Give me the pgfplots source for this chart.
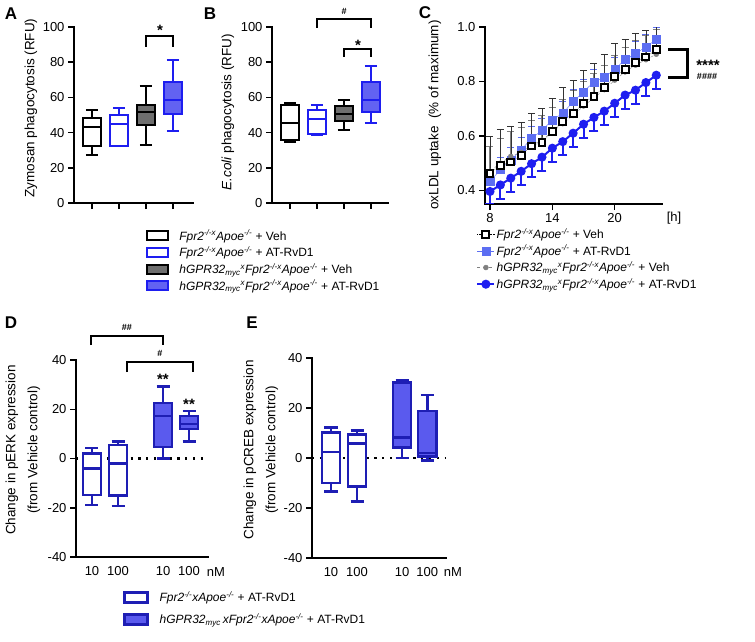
\documentclass[border=0pt]{standalone}
\usepackage{fontspec}
\setmainfont{Liberation Sans}
\usepackage{pgfplots}
\usepackage{pgfplotstable}
\pgfplotsset{compat=1.18}
\usepgfplotslibrary{statistics}

\definecolor{bblue}{HTML}{1E1EF0}
\definecolor{bfill}{HTML}{6262F2}
\definecolor{dblue}{HTML}{1E1EB4}
\definecolor{dfill}{HTML}{5A5AEE}
\definecolor{gfill}{HTML}{6E6E6E}
\definecolor{sqblue}{HTML}{5C6EF2}
\definecolor{gline}{HTML}{808080}

\newcommand{\ko}{\textsuperscript{\itshape -/-}}
\newcommand{\kox}{\textsuperscript{\itshape -/-x}}
\newcommand{\fpr}{\textit{Fpr2}\kox\textit{Apoe}\ko}
\newcommand{\hg}{\textit{hGPR32}\textsubscript{\itshape myc}\textsuperscript{\itshape x}\fpr}
\newcommand{\boxleg}[2]{\addlegendimage{legend image code/.code={\draw[line width=2pt,draw=#1,fill=#2] (0pt,-4.5pt) rectangle (21pt,4.5pt); \path[draw=none,fill=none] (0pt,0pt) rectangle (31pt,0pt);}}}
\newcommand{\boxlegD}[2]{\addlegendimage{legend image code/.code={\draw[line width=2.4pt,draw=#1,fill=#2] (0pt,-5pt) rectangle (23pt,5pt); \path[draw=none,fill=none] (0pt,0pt) rectangle (34pt,0pt);}}}

\pgfplotsset{
  panel/.style={
    scale only axis, anchor=south west,
    axis lines=left, axis line style={-, line width=1.5pt, line cap=rect},
    tick align=outside, major tick length=6pt,
    every tick/.style={black, line width=1.5pt},
    tick label style={font=\fontsize{13}{13}\selectfont},
    /pgf/number format/assume math mode=true,
    legend cell align=left,
    boxplot/draw direction=y,
  },
  bx/.style={boxplot prepared={#1}, line width=2pt, forget plot},
  bxd/.style={boxplot prepared={#1, box extend=0.7, whisker extend=0.5}, line width=2.5pt, dblue, forget plot},
  sBK/.style={black, densely dotted, thin, mark=square*, mark size=3.4pt, mark options={solid, fill=white, draw=black, line width=2pt}},
  sSQ/.style={sqblue, thin, mark=square*, mark size=4pt, mark options={solid, fill=sqblue, draw=sqblue}},
  sGR/.style={gline, dashed, thin, mark=*, mark size=2.5pt, mark options={solid, fill=gline, draw=gline}},
  sBC/.style={bblue, line width=2pt, mark=*, mark size=3.5pt, mark options={solid, fill=bblue, draw=bblue}},
}

\pgfplotstableread{
h  bk    ebk   sq    esq   gr    egr   bc    ebc
8  0.463 0.137 0.433 0.045 0.470 0.090 0.396 0.045
9  0.491 0.133 0.476 0.045 0.500 0.090 0.420 0.050
10 0.504 0.130 0.512 0.045 0.525 0.090 0.445 0.050
11 0.528 0.122 0.549 0.045 0.540 0.090 0.470 0.050
12 0.563 0.120 0.591 0.045 0.565 0.090 0.498 0.050
13 0.577 0.123 0.620 0.045 0.585 0.090 0.522 0.050
14 0.616 0.122 0.659 0.045 0.615 0.090 0.555 0.050
15 0.652 0.126 0.683 0.045 0.645 0.090 0.579 0.050
16 0.683 0.122 0.726 0.045 0.675 0.090 0.610 0.050
17 0.720 0.121 0.762 0.045 0.710 0.090 0.643 0.050
18 0.746 0.122 0.799 0.045 0.740 0.090 0.668 0.050
19 0.778 0.122 0.815 0.045 0.770 0.090 0.691 0.050
20 0.817 0.123 0.845 0.045 0.805 0.090 0.720 0.050
21 0.844 0.110 0.880 0.045 0.835 0.090 0.750 0.050
22 0.870 0.106 0.902 0.045 0.860 0.090 0.768 0.050
23 0.890 0.098 0.927 0.045 0.880 0.090 0.796 0.050
24 0.917 0.090 0.954 0.045 0.900 0.090 0.823 0.050
}\oxldl

\begin{document}
\begin{tikzpicture}[x=1pt,y=1pt]
\path (0,0) rectangle (755,641);

% ---------- A ----------
\begin{axis}[panel, at={(74pt,438pt)}, width=119pt, height=176pt,
  xmin=0.333, xmax=4.74, ymin=0, ymax=100,
  xtick={1,2,3,4}, xticklabels={}, ytick={0,20,...,100},
  boxplot/box extend=0.667, boxplot/whisker extend=0.45,
  legend style={at={(axis description cs:0.605,-0.145)}, anchor=north west, draw=none, fill=none,
    inner sep=0pt, row sep=2.6pt, font=\fontsize{12}{14}\selectfont, nodes={inner sep=1.2pt}}]
\addplot[bx={draw position=1, lower whisker=27, lower quartile=32.2, median=43, upper quartile=48.3, upper whisker=53}, draw=black, fill=white] coordinates {};
\addplot[bx={draw position=2, lower whisker=32.6, lower quartile=32.6, median=45, upper quartile=50.2, upper whisker=54}, draw=bblue, fill=white] coordinates {};
\addplot[bx={draw position=3, lower whisker=32.8, lower quartile=44.5, median=51.7, upper quartile=55.5, upper whisker=66.7}, draw=black, fill=gfill] coordinates {};
\addplot[bx={draw position=4, lower whisker=40.7, lower quartile=50.6, median=58.3, upper quartile=69, upper whisker=81.4}, draw=bblue, fill=bfill] coordinates {};
\boxleg{black}{white}\addlegendentry{\fpr{} + Veh}
\boxleg{bblue}{white}\addlegendentry{\fpr{}  + AT-RvD1}
\boxleg{black}{gfill}\addlegendentry{\hg{} + Veh}
\boxleg{bblue}{bfill}\addlegendentry{\hg{} + AT-RvD1}
\end{axis}

% ---------- B ----------
\begin{axis}[panel, at={(272pt,438pt)}, width=116pt, height=176pt,
  xmin=0.333, xmax=4.63, ymin=0, ymax=100,
  xtick={1,2,3,4}, xticklabels={}, ytick={0,20,...,100},
  boxplot/box extend=0.667, boxplot/whisker extend=0.45]
\addplot[bx={draw position=1, lower whisker=34.7, lower quartile=36, median=45.5, upper quartile=55.5, upper whisker=57}, draw=black, fill=white] coordinates {};
\addplot[bx={draw position=2, lower whisker=38.8, lower quartile=39.4, median=47.9, upper quartile=53, upper whisker=55.9}, draw=bblue, fill=white] coordinates {};
\addplot[bx={draw position=3, lower whisker=41.7, lower quartile=46.6, median=50.8, upper quartile=54.9, upper whisker=58.7}, draw=black, fill=gfill] coordinates {};
\addplot[bx={draw position=4, lower whisker=45.6, lower quartile=51.7, median=58.7, upper quartile=68.8, upper whisker=77.7}, draw=bblue, fill=bfill] coordinates {};
\end{axis}

% ---------- C ----------
\begin{axis}[panel, at={(485pt,437pt)}, width=177pt, height=177pt,
  xmin=7.52, xmax=24.55, ymin=0.35, ymax=1.0,
  xtick={8,14,20}, ytick={0.4,0.6,0.8,1.0},
  yticklabel style={/pgf/number format/.cd, fixed, fixed zerofill, precision=1},
  legend style={at={(axis description cs:-0.05,-0.13)}, anchor=north west, draw=none, fill=none,
    inner sep=0pt, row sep=2.6pt, font=\fontsize{12}{14}\selectfont, nodes={inner sep=1.2pt}}]
\addplot[sSQ, forget plot, error bars/.cd, y dir=plus, y explicit,
  error bar style={sqblue, thin, solid}, error mark options={rotate=90, mark size=3.5pt, sqblue}]
  table[x=h, y=sq, y error=esq] {\oxldl};
\addplot[sGR, forget plot, error bars/.cd, y dir=plus, y explicit,
  error bar style={gline, line width=1.2pt, solid}, error mark options={rotate=90, mark size=3.5pt, gline, line width=1pt}]
  table[x=h, y=gr, y error=egr] {\oxldl};
\addplot[sBK, forget plot, error bars/.cd, y dir=plus, y explicit,
  error bar style={black!80, thin, solid}, error mark options={rotate=90, mark size=3.5pt, black!80}]
  table[x=h, y=bk, y error=ebk] {\oxldl};
\addplot[sBC, forget plot, error bars/.cd, y dir=minus, y explicit,
  error bar style={bblue, line width=2pt, solid}, error mark options={rotate=90, mark size=4.5pt, bblue, line width=2pt}]
  table[x=h, y=bc, y error=ebc] {\oxldl};
\addlegendimage{sBK}\addlegendentry{\fpr{} + Veh}
\addlegendimage{sSQ}\addlegendentry{\fpr{}  + AT-RvD1}
\addlegendimage{sGR}\addlegendentry{\hg{} + Veh}
\addlegendimage{sBC}\addlegendentry{\hg{} + AT-RvD1}
\end{axis}

% ---------- D ----------
\begin{axis}[panel, at={(76pt,84pt)}, width=132pt, height=197pt,
  xmin=0.385, xmax=5.46, ymin=-40, ymax=40,
  xtick={1,2,3.73,4.73}, xticklabels={10,100,10,100}, x tick style={draw=none},
  ytick={-40,-20,...,40},
  legend style={at={(axis description cs:0.356,-0.168)}, anchor=north west, draw=none, fill=none,
    inner sep=0pt, row sep=8pt, font=\fontsize{12}{14}\selectfont, nodes={inner sep=1.2pt}}]
\addplot[black, line width=2.2pt, dash pattern=on 2.2pt off 5.6pt, forget plot] coordinates {(0.385,0) (5.46,0)};
\addplot[bxd={draw position=1, lower whisker=-18.9, lower quartile=-14.9, median=-4, upper quartile=2, upper whisker=4.3}, fill=white] coordinates {};
\addplot[bxd={draw position=2, lower whisker=-19.2, lower quartile=-15.1, median=-2, upper quartile=5.4, upper whisker=7}, fill=white] coordinates {};
\addplot[bxd={draw position=3.73, lower whisker=0, lower quartile=4.7, median=17.2, upper quartile=22.6, upper whisker=29.3}, fill=dfill] coordinates {};
\addplot[bxd={draw position=4.73, lower whisker=7, lower quartile=11.9, median=14, upper quartile=17.2, upper whisker=19.2}, fill=dfill] coordinates {};
\boxlegD{dblue}{white}\addlegendentry{\textit{Fpr2}\ko\textit{xApoe}\ko{} + AT-RvD1}
\boxlegD{dblue}{dfill}\addlegendentry{\textit{hGPR32}\textsubscript{\itshape myc}\,\textit{xFpr2}\ko\textit{xApoe}\ko{}  + AT-RvD1}
\end{axis}

% ---------- E ----------
\begin{axis}[panel, at={(312pt,83pt)}, width=134pt, height=200pt,
  xmin=0.27, xmax=5.42, ymin=-40, ymax=40,
  xtick={1,2,3.73,4.7}, xticklabels={10,100,10,100}, x tick style={draw=none},
  ytick={-40,-20,...,40}]
\addplot[black, line width=2.2pt, dash pattern=on 2.2pt off 5.6pt, forget plot] coordinates {(0.27,0) (5.42,0)};
\addplot[bxd={draw position=1, lower whisker=-13.3, lower quartile=-10, median=2.4, upper quartile=10.2, upper whisker=12.2}, fill=white] coordinates {};
\addplot[bxd={draw position=2, lower whisker=-17.3, lower quartile=-11.3, median=5.8, upper quartile=9.5, upper whisker=11.1}, fill=white] coordinates {};
\addplot[bxd={draw position=3.73, lower whisker=0, lower quartile=4.2, median=8.2, upper quartile=30.2, upper whisker=31.3}, fill=dfill] coordinates {};
\addplot[bxd={draw position=4.7, lower whisker=-0.9, lower quartile=0.7, median=2, upper quartile=18.8, upper whisker=25.2}, fill=dfill] coordinates {};
\end{axis}

% ---------- labels and annotations ----------
\tikzset{lab/.style={font=\fontsize{13.5}{22}\selectfont, rotate=90, align=center},
  pl/.style={font=\fontsize{17}{17}\bfseries\selectfont}}
\node[pl] at (11,627) {A};
\node[pl] at (210,627) {B};
\node[pl] at (425,628) {C};
\node[pl] at (11,318) {D};
\node[pl] at (252,318) {E};

\node[lab] at (31,533) {Zymosan phagocytosis (RFU)};
\node[lab] at (228,529) {\textit{E.coli} phagocytosis (RFU)};
\node[lab] at (435,526) {oxLDL uptake\ \ (\% of maximum)};
\node[lab] at (23,191) {Change in pERK expression\\(from Vehicle control)};
\node[lab] at (261,191) {Change in pCREB expression\\(from Vehicle control)};

\node[font=\fontsize{13}{13}\selectfont] at (674,423) {[h]};
\node[font=\fontsize{13}{13}\selectfont] at (216,69) {nM};
\node[font=\fontsize{13}{13}\selectfont] at (453,69) {nM};

\begin{scope}[line width=2pt]
\draw (146,594) -- (146,605) -- (173,605) -- (173,594);
\node[font=\fontsize{15}{15}\bfseries\selectfont] at (160,611) {*};
\draw (317,613) -- (317,622) -- (371,622) -- (371,613);
\node[font=\fontsize{9}{9}\bfseries\selectfont] at (344,630) {\#};
\draw (344,584) -- (344,592) -- (371,592) -- (371,584);
\node[font=\fontsize{15}{15}\bfseries\selectfont] at (358,596) {*};
\end{scope}
\draw[line width=3pt] (668,591) -- (687,591) -- (687,563) -- (668,563);
\node[font=\fontsize{15}{15}\bfseries\selectfont] at (708,576) {****};
\node[font=\fontsize{9}{9}\bfseries\selectfont] at (707,565) {\#\#\#\#};

\begin{scope}[line width=2.2pt]
\draw (91,296) -- (91,305) -- (163,305) -- (163,296);
\node[font=\fontsize{9}{9}\bfseries\selectfont] at (127,314) {\#\#};
\draw (127,269) -- (127,279) -- (193,279) -- (193,269);
\node[font=\fontsize{9}{9}\bfseries\selectfont] at (160,288) {\#};
\end{scope}
\node[font=\fontsize{15}{15}\bfseries\selectfont] at (163,262) {**};
\node[font=\fontsize{15}{15}\bfseries\selectfont] at (189,237) {**};
\end{tikzpicture}
\end{document}
